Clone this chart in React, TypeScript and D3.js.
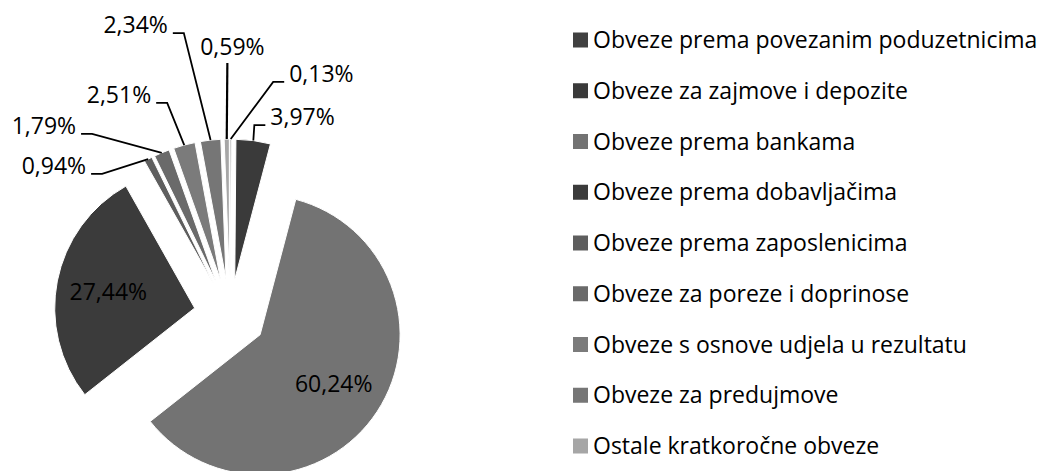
import React from 'react';
import * as d3 from 'd3';

// categories, in the order the slices run clockwise from 12 o'clock
const categories = [
  'Obveze prema povezanim poduzetnicima',
  'Obveze za zajmove i depozite',
  'Obveze prema bankama',
  'Obveze prema dobavljačima',
  'Obveze prema zaposlenicima',
  'Obveze za poreze i doprinose',
  'Obveze s osnove udjela u rezultatu',
  'Obveze za predujmove',
  'Ostale kratkoročne obveze',
];
const shares = [0.13, 3.97, 60.24, 27.44, 0.94, 1.79, 2.51, 2.34, 0.59];
const colors = ['#404040', '#3a3a3a', '#737373', '#3b3b3b', '#5e5e5e', '#6a6a6a', '#7b7b7b', '#767676', '#a6a6a6'];

// where Excel parked the outside labels: [angle (deg), radius, side] from pie centre
const labelSpots: Array<[number, number, string] | null> = [
  [10.5, 237, 'right'],
  [7.3, 191.5, 'right'],
  null,
  null,
  [-42.2, 190.4, 'left'],
  [-37.3, 227.6, 'left'],
  [-16.5, 221.2, 'left'],
  [-9.3, 285.7, 'left'],
  [-0.6, 252, 'top'],
];

const W = 1042;
const H = 471;
const cx = 230;
const cy = 315;
const R = 140;
const explode = 36;
const FONT = '"Open Sans", sans-serif';
const LABEL_SIZE = 23;

const fmt = d3.formatLocale({ decimal: ',', thousands: '.', grouping: [3], currency: ['', ''] }).format('.2f');

export default function App() {
  const pie = d3.pie<number>().sort(null).value(d => d);
  const arcs = pie(shares);
  const arc = d3.arc<d3.PieArcDatum<number>>().innerRadius(0).outerRadius(R);
  const edge = d3.arc<d3.PieArcDatum<number>>().innerRadius(R).outerRadius(R);
  const inside = d3.arc<d3.PieArcDatum<number>>().innerRadius(88).outerRadius(88);

  const rows = d3.scalePoint<string>().domain(categories).range([40, 446]);

  return (
    <svg width={W} height={H} style={{ position: 'absolute', left: 0, top: 0, background: '#fff' }} fontFamily={FONT}>
      <g transform={`translate(${cx},${cy})`}>
        {arcs.map((a, i) => {
          const mid = (a.startAngle + a.endAngle) / 2;
          const [ox, oy] = d3.pointRadial(mid, explode);
          return (
            <g key={i} transform={`translate(${ox},${oy})`}>
              <path d={arc(a) || ''} fill={colors[i]} stroke="#fff" strokeWidth={1} />
            </g>
          );
        })}
        {arcs.map((a, i) => {
          const mid = (a.startAngle + a.endAngle) / 2;
          const [ox, oy] = d3.pointRadial(mid, explode);
          const spot = labelSpots[i];
          const text = fmt(a.data) + '%';
          if (!spot) {
            const [tx, ty] = inside.centroid(a);
            return (
              <text key={i} x={ox + tx} y={oy + ty} textAnchor="middle" dominantBaseline="central" fontSize={LABEL_SIZE} fill="#000">
                {text}
              </text>
            );
          }
          const [sx, sy] = edge.centroid(a);
          const [ex, ey] = d3.pointRadial((spot[0] * Math.PI) / 180, spot[1]);
          const side = spot[2];
          if (side === 'top') {
            return (
              <g key={i}>
                <line x1={ox + sx} y1={oy + sy} x2={ex} y2={ey} stroke="#000" strokeWidth={2.2} />
                <text x={ex + 5} y={ey - 8} textAnchor="middle" fontSize={LABEL_SIZE} fill="#000">{text}</text>
              </g>
            );
          }
          const dir = side === 'left' ? -1 : 1;
          const hx = ex + dir * 11;
          const pts: [number, number][] = [[ox + sx, oy + sy], [ex, ey], [hx, ey]];
          return (
            <g key={i}>
              <path d={d3.line()(pts) || ''} fill="none" stroke="#000" strokeWidth={1.8} />
              <text x={hx + dir * 5} y={ey} textAnchor={dir < 0 ? 'end' : 'start'} fontSize={LABEL_SIZE} fill="#000">{text}</text>
            </g>
          );
        })}
      </g>
      <g>
        {categories.map((c, i) => {
          const y = rows(c) as number;
          return (
            <g key={c}>
              <rect x={573} y={y - 7.5} width={15} height={15} fill={colors[i]} />
              <text x={593} y={y + 8} fontSize={23} fill="#000">{c}</text>
            </g>
          );
        })}
      </g>
    </svg>
  );
}
